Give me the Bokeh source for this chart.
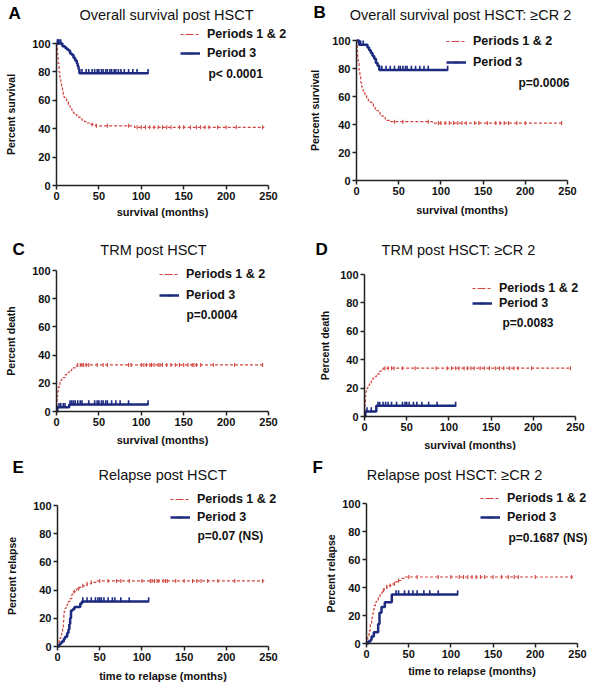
import numpy as np
from bokeh.plotting import figure
from bokeh.models import Range1d, Label, Legend, LegendItem
from bokeh.layouts import column, row
from bokeh.embed import file_html
from bokeh.resources import INLINE

# ---------------- data ----------------
SERIES_NAMES = ["Periods 1 & 2", "Period 3"]
X_TICKS = [0, 50, 100, 150, 200, 250]
Y_TICKS = [0, 20, 40, 60, 80, 100]

TITLES = {
    "A": "Overall survival post HSCT",
    "B": "Overall survival post HSCT: \u2265CR 2",
    "C": "TRM post HSCT",
    "D": "TRM post HSCT: \u2265CR 2",
    "E": "Relapse post HSCT",
    "F": "Relapse post HSCT: \u2265CR 2",
}
X_LABELS = {"A": "survival (months)", "B": "survival (months)", "C": "survival (months)",
            "D": "survival (months)", "E": "time to relapse (months)", "F": "time to relapse (months)"}
Y_LABELS = {"A": "Percent survival", "B": "Percent survival", "C": "Percent death",
            "D": "Percent death", "E": "Percent relapse", "F": "Percent relapse"}
P_VALUES = {"A": "p< 0.0001", "B": "p=0.0006", "C": "p=0.0004",
            "D": "p=0.0083", "E": "p=0.07 (NS)", "F": "p=0.1687 (NS)"}
START = {"A": 100, "B": 100, "C": 0, "D": 0, "E": 0, "F": 0}

# Panel A: overall survival
A_red_t = [0.5, 1, 1.5, 2, 3, 4, 5, 6, 7, 8, 9, 10, 12, 14, 16, 18, 20, 22, 24, 26, 28, 30, 33, 36, 40, 46, 92]
A_red_s = [97, 93, 90, 86, 80, 76, 73, 70, 66, 64, 62, 61, 59, 57, 55, 53, 51, 50, 49, 48, 47, 46, 45, 44, 43, 42, 41]
A_red_end = 245
A_red_cens = [42, 47, 60, 85, 95, 100, 105, 110, 115, 120, 125, 130, 135, 145, 150, 158, 165, 170, 175, 180, 190, 200, 212, 243]
A_blue_t = [7, 10, 12, 14, 16, 18, 20, 22, 24, 25, 26, 27]
A_blue_s = [98, 97, 96, 95, 93, 92, 90, 88, 86, 84, 82, 79]
A_blue_end = 108
A_blue_cens = [1, 2, 3, 5, 30, 35, 38, 42, 45, 48, 50, 53, 55, 58, 60, 63, 65, 68, 70, 73, 76, 80, 85, 90, 95, 108]

# Panel B: overall survival >=CR2
B_red_t = [0.5, 1, 1.5, 2, 3, 4, 5, 6, 7, 8, 10, 12, 14, 16, 18, 20, 22, 24, 26, 28, 30, 32, 34, 36, 40, 90]
B_red_s = [96, 92, 88, 84, 79, 75, 70, 67, 65, 63, 61, 59, 57, 56, 55, 53, 51, 50, 49, 47, 46, 45, 44, 43, 42, 41]
B_red_end = 245
B_red_cens = [45, 55, 85, 97, 100, 105, 110, 115, 120, 125, 130, 140, 145, 155, 165, 170, 175, 180, 190, 200, 243]
B_blue_t = [3, 13, 15, 17, 19, 21, 23, 25, 27]
B_blue_s = [97, 95, 93, 91, 89, 87, 84, 82, 79]
B_blue_end = 108
B_blue_cens = [5, 8, 30, 35, 40, 45, 50, 52, 55, 58, 60, 65, 70, 75, 80, 85, 108]

# Panel C: TRM
C_red_t = [0.3, 0.6, 1, 1.5, 2, 3, 4, 5, 6, 8, 10, 12, 14, 16, 18, 20, 22, 24]
C_red_s = [4, 8, 11, 14, 17, 19, 21, 22, 23, 24, 26, 27, 28, 29, 30, 31, 32, 33]
C_red_end = 245
C_red_cens = [25, 28, 30, 32, 35, 38, 48, 55, 60, 85, 88, 100, 103, 106, 110, 112, 115, 120, 122, 125, 130,
              135, 140, 145, 150, 155, 160, 162, 165, 170, 185, 210, 243]
C_blue_t = [1, 15]
C_blue_s = [3, 5]
C_blue_end = 108
C_blue_cens = [3, 5, 8, 10, 16, 18, 20, 22, 25, 28, 30, 38, 45, 48, 50, 53, 55, 58, 60, 65, 70, 75, 85, 108]

# Panel D: TRM >=CR2
D_red_t = [0.3, 0.6, 1, 1.5, 2, 3, 4, 5, 6, 8, 10, 12, 14, 16, 18, 20, 22]
D_red_s = [5, 10, 14, 17, 18, 20, 21, 22, 23, 25, 27, 28, 29, 30, 32, 33, 34]
D_red_end = 245
D_red_cens = [24, 28, 32, 35, 45, 60, 85, 98, 103, 108, 112, 118, 122, 126, 130, 137, 142, 148, 155,
              160, 165, 172, 177, 182, 198, 244]
D_blue_t = [1, 14]
D_blue_s = [3.5, 7.5]
D_blue_end = 108
D_blue_cens = [3, 8, 16, 18, 22, 25, 28, 32, 38, 45, 48, 50, 53, 58, 62, 68, 76, 86, 108]

# Panel E: relapse
E_red_t = [1, 2, 3, 4, 5, 6, 7, 7.5, 8, 9, 10, 11.5, 13, 15, 17, 19, 21, 23, 26, 30, 35, 40, 47]
E_red_s = [2, 4, 6, 8, 10, 14, 18, 23, 25, 27, 29, 30, 32, 34, 37, 39, 40, 41, 42, 43, 44.5, 45.5, 46.5]
E_red_end = 245
E_red_cens = [20, 25, 30, 35, 40, 50, 60, 70, 75, 85, 100, 110, 112, 115, 118, 120, 125, 128, 130, 140,
              150, 160, 165, 170, 178, 190, 210, 243]
E_blue_t = [2, 3.5, 5, 7.5, 9, 11.5, 13, 14, 15, 16, 18, 20, 27, 29]
E_blue_s = [1.5, 2.3, 3.5, 5.5, 7, 9.5, 12, 16, 20, 25.5, 26.5, 28, 30.5, 32]
E_blue_end = 108
E_blue_cens = [30, 35, 40, 45, 48, 50, 52, 55, 60, 65, 68, 75, 85, 108]

# Panel F: relapse >=CR2
F_red_t = [0.5, 1.5, 3, 4.5, 6, 7, 8, 9, 10.5, 12, 14, 16, 18.6, 21, 24, 27, 30, 34, 38, 42, 46]
F_red_s = [2, 5, 9, 14, 18, 21, 24, 27, 29.5, 31, 33, 36, 38, 39.5, 40.5, 41.5, 42.5, 44, 45, 46.5, 47.5]
F_red_end = 245
F_red_cens = [20, 24, 28, 33, 38, 50, 60, 85, 100, 110, 115, 120, 125, 130, 135, 140, 150, 160, 168,
              175, 180, 200, 243]
F_blue_t = [2, 4.7, 6, 8.7, 13.8, 15.4, 17.8, 21.7, 30]
F_blue_s = [1.5, 2.5, 5, 8, 14, 22, 26, 29.5, 35]
F_blue_end = 108
F_blue_cens = [35, 38, 45, 50, 55, 60, 68, 75, 85, 108]

DATA = {
    "A": (A_red_t, A_red_s, A_red_end, A_red_cens, A_blue_t, A_blue_s, A_blue_end, A_blue_cens),
    "B": (B_red_t, B_red_s, B_red_end, B_red_cens, B_blue_t, B_blue_s, B_blue_end, B_blue_cens),
    "C": (C_red_t, C_red_s, C_red_end, C_red_cens, C_blue_t, C_blue_s, C_blue_end, C_blue_cens),
    "D": (D_red_t, D_red_s, D_red_end, D_red_cens, D_blue_t, D_blue_s, D_blue_end, D_blue_cens),
    "E": (E_red_t, E_red_s, E_red_end, E_red_cens, E_blue_t, E_blue_s, E_blue_end, E_blue_cens),
    "F": (F_red_t, F_red_s, F_red_end, F_red_cens, F_blue_t, F_blue_s, F_blue_end, F_blue_cens),
}

# ---------------- layout / style ----------------
FONT = "Liberation Sans"
RED = "#d2453f"
BLUE = "#1c2a80"
AXIS_COLOR = "#222222"
ITEM_H = 13

# pixel positions in the picture
LAYOUT = {
    "A": dict(box=(0, 0, 295, 225), frame=(56, 268, 185, 43), ys=12, xs=3,
              leg=(180, [34, 53]), pv=(208, 73), title=(166, 14), letter=(8, 13)),
    "B": dict(box=(295, 0, 296, 225), frame=(356, 567, 180, 40), ys=8, xs=6,
              leg=(446, [41, 62]), pv=(518, 82), title=(460, 14), letter=(313, 12)),
    "C": dict(box=(0, 225, 295, 225), frame=(56, 268, 411, 270), ys=12, xs=5,
              leg=(159, [274, 295]), pv=(186, 314), title=(153, 249), letter=(12, 249)),
    "D": dict(box=(295, 225, 296, 225), frame=(364, 575, 416, 274), ys=6, xs=5,
              leg=(472, [288, 303]), pv=(502, 322), title=(458, 249), letter=(315, 249)),
    "E": dict(box=(0, 450, 295, 235), frame=(57, 268, 646, 505), ys=12, xs=6,
              leg=(170, [499, 517]), pv=(197, 535), title=(162, 474), letter=(12, 467)),
    "F": dict(box=(295, 450, 296, 235), frame=(366, 577, 643, 503), ys=2, xs=4,
              leg=(480, [498, 517]), pv=(508, 537), title=(454, 474), letter=(312, 467)),
}


def steps(t, s, start, end):
    xs = [0.0] + list(t) + [end]
    ys = [start] + list(s) + [s[-1]]
    return np.array(xs, float), np.array(ys, float)


def value_at(xs, ys, c):
    idx = np.searchsorted(xs, np.asarray(c, float), side="right") - 1
    return ys[np.clip(idx, 0, len(ys) - 1)]


def make_panel(k):
    L = LAYOUT[k]
    col_left, row_top, W, H = L["box"]
    x0, x250, y0, y100 = L["frame"]
    fx = lambda px: (px - x0) / (x250 - x0) * 250.0
    fy = lambda py: (y0 - py) / (y0 - y100) * 100.0

    p = figure(width=W, height=H,
               x_range=Range1d(fx(col_left), fx(col_left + W)),
               y_range=Range1d(fy(row_top + H), fy(row_top)),
               output_backend="svg", toolbar_location=None, title_location=None,
               min_border_left=0, min_border_right=0, min_border_top=0, min_border_bottom=0)
    p.outline_line_color = None
    p.grid.visible = False
    p.background_fill_color = "white"
    p.border_fill_color = "white"

    p.xaxis.ticker = X_TICKS
    p.yaxis.ticker = Y_TICKS
    p.xaxis.bounds = (0, 250)
    p.yaxis.bounds = (0, 100)
    p.xaxis.fixed_location = 0
    p.yaxis.fixed_location = 0
    p.xaxis.axis_label = X_LABELS[k]
    p.yaxis.axis_label = Y_LABELS[k]
    p.yaxis.axis_label_standoff = L["ys"]
    p.xaxis.axis_label_standoff = L["xs"]
    for ax in (p.xaxis[0], p.yaxis[0]):
        ax.axis_line_color = AXIS_COLOR
        ax.axis_line_width = 1.5
        ax.major_tick_line_color = AXIS_COLOR
        ax.major_tick_line_width = 1.5
        ax.major_tick_out = 4
        ax.major_tick_in = 0
        ax.minor_tick_line_color = None
        ax.major_label_standoff = 2
        ax.major_label_text_font = FONT
        ax.major_label_text_font_style = "bold"
        ax.major_label_text_font_size = "11px"
        ax.major_label_text_color = "#111111"
        ax.axis_label_text_font = FONT
        ax.axis_label_text_font_style = "bold"
        ax.axis_label_text_font_size = "11px"
        ax.axis_label_text_color = "#111111"
    p.yaxis.major_label_orientation = "horizontal"
    p.yaxis.axis_label_text_font_size = "10.5px"

    rt, rs, rend, rc, bt, bs, bend, bc = DATA[k]
    start = START[k]
    rx, ry = steps(rt, rs, start, rend)
    bx, by = steps(bt, bs, start, bend)

    r_line = p.step(rx, ry, mode="after", line_color=RED, line_width=1.2, line_dash="3 2")
    r_cens = p.scatter(rc, value_at(rx, ry, rc), marker="dash", angle=np.pi / 2, size=4,
                       line_color=RED, line_width=1.1)
    b_line = p.step(bx, by, mode="after", line_color=BLUE, line_width=2.5)
    b_cens = p.scatter(bc, value_at(bx, by, bc) + 1.2, marker="dash", angle=np.pi / 2, size=5,
                       line_color=BLUE, line_width=1.6)

    gl, centers = L["leg"]
    for name, rends, cy in zip(SERIES_NAMES, [[r_line, r_cens], [b_line, b_cens]], centers):
        leg = Legend(items=[LegendItem(label=name, renderers=rends)],
                     location=(gl - col_left, row_top + H - cy - ITEM_H / 2.0),
                     padding=0, margin=0, spacing=0, border_line_alpha=0,
                     background_fill_alpha=0, glyph_width=20, glyph_height=12,
                     label_height=12, label_standoff=7,
                     label_text_font=FONT, label_text_font_size="12.5px",
                     label_text_font_style="bold", label_text_color="#111111")
        p.add_layout(leg)

    px_, py_ = L["pv"]
    p.add_layout(Label(x=fx(px_), y=fy(py_), text=P_VALUES[k], text_font=FONT,
                       text_font_size="12px", text_font_style="bold", text_color="#111111",
                       text_align="left", text_baseline="middle"))
    tx, ty = L["title"]
    p.add_layout(Label(x=fx(tx), y=fy(ty), text=TITLES[k], text_font=FONT,
                       text_font_size="14.5px", text_color="#111111",
                       text_align="center", text_baseline="middle"))
    lx, ly = L["letter"]
    p.add_layout(Label(x=fx(lx), y=fy(ly), text=k, text_font=FONT,
                       text_font_size="17px", text_font_style="bold", text_color="#000000",
                       text_align="left", text_baseline="middle"))
    return p


panels = {k: make_panel(k) for k in "ABCDEF"}
layout = column(row(panels["A"], panels["B"]),
                row(panels["C"], panels["D"]),
                row(panels["E"], panels["F"]))

open("out.html", "w").write(file_html(layout, INLINE))
